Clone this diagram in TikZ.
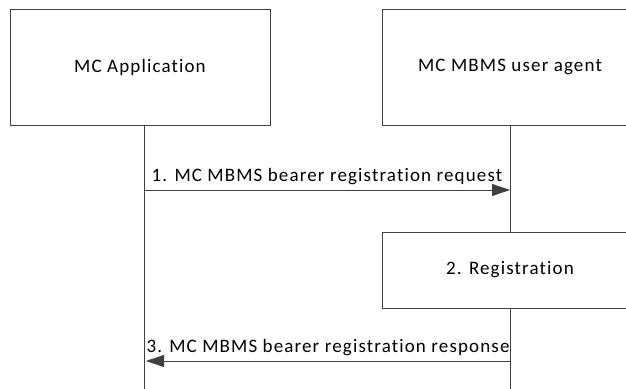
\documentclass[tikz,border=0pt]{standalone}
\usepackage{fontspec}
\setmainfont{Carlito}
\newfontfamily\diagfont[LetterSpace=6, Ligatures={NoCommon}]{Carlito}
\usetikzlibrary{positioning, arrows.meta}

\begin{document}
\begin{tikzpicture}[
    x=1pt, y=1pt,
    every node/.style={font=\diagfont\fontsize{19}{22}\selectfont},
    entity/.style={draw=black!75, line width=0.8pt, minimum width=260pt, minimum height=116pt, inner sep=0pt},
    stepbox/.style={draw=black!75, line width=0.8pt, minimum width=256pt, minimum height=76pt, inner sep=0pt},
    lifeline/.style={draw=black!75, line width=0.8pt},
    msg/.style={-{Triangle[length=18pt, width=12pt]}, draw=black!60, line width=0.8pt, black!75},
    msglabel/.style={text=black, inner sep=1pt}
]

% Fix the page size
\useasboundingbox (0,0) rectangle (626,-388);
\clip (0,0) rectangle (626,-388);

% Entities
\node[entity] (app) at (140,-67) {MC Application};
\node[entity, minimum width=256pt] (ua) at (510,-67) {MC MBMS user agent};

% Lifelines
\coordinate (append) at (144,-390);
\coordinate (uaend) at (510,-390);
\draw[lifeline] (app.south -| append) -- (append);
\draw[lifeline] (ua.south) -- (uaend);

% Registration step on the user agent side
\node[stepbox, fill=white] (reg) at (510,-270) {2. Registration};

% Message points on the lifelines
\coordinate (reqA) at (144,-190);
\coordinate (reqB) at (510,-190);
\coordinate (resA) at (146,-361);
\coordinate (resB) at (510,-361);

% Messages
\draw[msg] (reqA) -- node[msglabel, above=4pt] {1. MC MBMS bearer registration request} (reqB);
\draw[msg] (resB) -- node[msglabel, above=4pt] {3. MC MBMS bearer registration response} (resA);

\end{tikzpicture}
\end{document}
